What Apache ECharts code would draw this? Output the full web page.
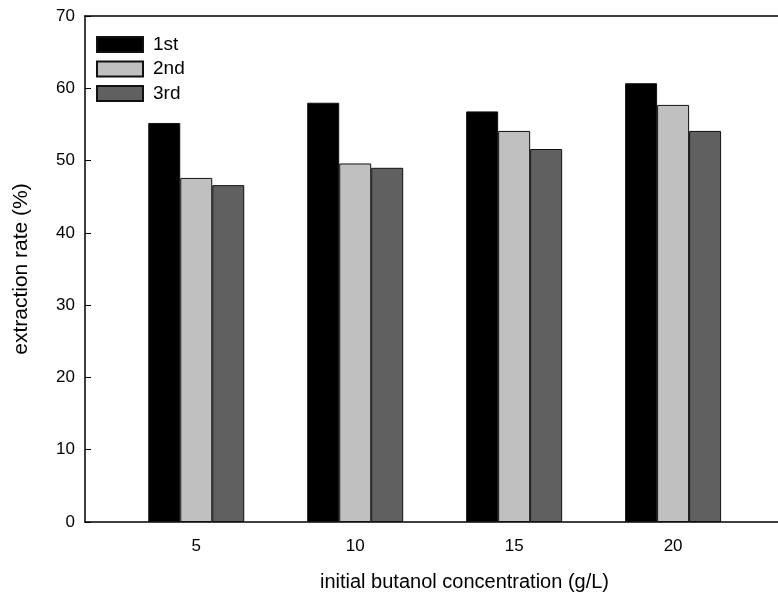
<!DOCTYPE html>
<html>
<head>
<meta charset="utf-8">
<script src="https://cdn.jsdelivr.net/npm/echarts@6/dist/echarts.min.js"></script>
<style>html,body{margin:0;padding:0;background:#fff}#c{width:778px;height:606px}</style>
</head>
<body>
<div id="c"></div>
<script>
const categories = [5, 10, 15, 20];
const first  = [55.2, 58.0, 56.8, 60.7];
const second = [47.6, 49.6, 54.1, 57.7];
const third  = [46.6, 49.0, 51.6, 54.1];
const seriesNames = ['1st', '2nd', '3rd'];
const yTicks = [0, 10, 20, 30, 40, 50, 60, 70];

const font = 'Liberation Sans, Arial, sans-serif';
const colors = ['#000000', '#c0c0c0', '#606060'];
const vals = [first, second, third];

const chart = echarts.init(document.getElementById('c'));
chart.setOption({
  animation: false,
  textStyle: { fontFamily: font },
  grid: { left: 85, right: 0, top: 16, bottom: 84, containLabel: false },
  legend: {
    orient: 'vertical', left: 91, top: 30,
    itemWidth: 46, itemHeight: 15, itemGap: 5.5,
    icon: 'rect',
    data: seriesNames,
    textStyle: { fontSize: 19, color: '#000', fontFamily: font, padding: [0, 0, 0, 5] }
  },
  xAxis: [{
    type: 'value', min: 1.5, max: 23.3,
    name: 'initial butanol concentration (g/L)',
    nameLocation: 'middle', nameGap: 50,
    nameTextStyle: { fontSize: 20, color: '#000', fontFamily: font, padding: [0, 0, 0, 66] },
    axisLine: { show: true, lineStyle: { color: '#000', width: 1.5 } },
    axisTick: { show: false },
    splitLine: { show: false },
    axisLabel: { customValues: categories, fontSize: 17, color: '#000', margin: 16, fontFamily: font }
  }, {
    type: 'value', min: 1.5, max: 23.3, position: 'top',
    axisLine: { show: true, onZero: false, lineStyle: { color: '#000', width: 1.5 } },
    axisTick: { show: false }, axisLabel: { show: false }, splitLine: { show: false }
  }],
  yAxis: {
    type: 'value', min: 0, max: 70, interval: 10,
    name: 'extraction rate (%)',
    nameLocation: 'middle', nameGap: 53,
    nameTextStyle: { fontSize: 21, color: '#000', fontFamily: font },
    axisLine: { show: true, lineStyle: { color: '#000', width: 1.5 } },
    axisTick: { show: true, inside: true, length: 6, lineStyle: { color: '#000' } },
    splitLine: { show: false },
    axisLabel: { fontSize: 17, color: '#000', margin: 10, fontFamily: font,
      formatter: v => yTicks.includes(v) ? String(v) : '' }
  },
  series: seriesNames.map((n, i) => ({
    name: n, type: 'bar', xAxisIndex: 0,
    barWidth: 32, barGap: '0%',
    itemStyle: { color: colors[i], borderColor: '#111', borderWidth: 1 },
    data: categories.map((c, k) => [c, vals[i][k]])
  }))
});
</script>
</body>
</html>
